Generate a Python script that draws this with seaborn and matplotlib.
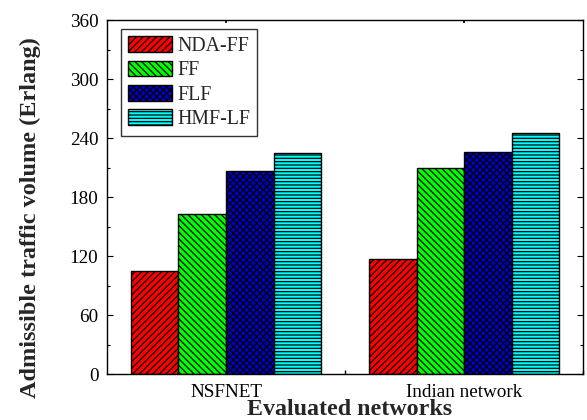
import matplotlib
matplotlib.use("Agg")
import matplotlib.pyplot as plt
from matplotlib.patches import Patch
from matplotlib.ticker import MultipleLocator, FixedLocator
import seaborn as sns
import pandas as pd

networks = ["NSFNET", "Indian network"]
schemes = ["NDA-FF", "FF", "FLF", "HMF-LF"]
nda_ff = [105, 117]
ff = [163, 210]
flf = [207, 226]
hmf_lf = [225, 245]

colors = ["#FF0000", "#00FF00", "#0000CC", "#00FFFF"]
hatches = ["/////", "\\\\\\\\\\", "xxxxx", "-----"]

rows = []
for scheme, vals in zip(schemes, [nda_ff, ff, flf, hmf_lf]):
    for net, v in zip(networks, vals):
        rows.append({"network": net, "scheme": scheme, "volume": v})
df = pd.DataFrame(rows)

sns.set_theme(style="ticks")
plt.rcParams["font.family"] = ["Liberation Serif", "DejaVu Serif"]
plt.rcParams["hatch.linewidth"] = 0.9
plt.rcParams["hatch.color"] = "black"

fig = plt.figure(figsize=(5.87, 4.20), dpi=100)
ax = fig.add_axes([0.1823, 0.1088, 0.8114, 0.8432])

sns.barplot(data=df, x="network", y="volume", hue="scheme", order=networks,
            hue_order=schemes, palette=colors, width=0.8, saturation=1,
            edgecolor="black", linewidth=1.0, legend=False, ax=ax)

for container, h in zip(ax.containers, hatches):
    for bar in container:
        bar.set_hatch(h)
        bar.set_edgecolor("black")

ax.set_xlim(-0.5, 1.5)
ax.set_ylim(0, 360)
ax.yaxis.set_major_locator(MultipleLocator(60))
ax.yaxis.set_minor_locator(MultipleLocator(30))
ax.xaxis.set_minor_locator(FixedLocator([0.5, 1.5]))

for s in ax.spines.values():
    s.set_linewidth(1.0)
    s.set_color("black")

ax.tick_params(axis="y", which="both", direction="in", left=True, right=True,
               labelsize=13.8, colors="black", width=0.8, pad=6.3)
ax.tick_params(axis="y", which="major", length=4)
ax.tick_params(axis="y", which="minor", length=2.5)
ax.tick_params(axis="x", which="major", direction="in", bottom=False, top=True,
               length=2, labelsize=13.8, pad=7.2, colors="black")
ax.tick_params(axis="x", which="minor", direction="in", bottom=True, top=False,
               length=3, colors="black")

ax.set_xlabel("Evaluated networks", fontsize=17.3, fontweight="bold")
ax.set_ylabel("Admissible traffic volume (Erlang)", fontsize=17.5,
              fontweight="bold")
ax.xaxis.set_label_coords(0.5085, -0.070)
ax.yaxis.set_label_coords(-0.1386, 0.443)

handles = [Patch(facecolor=c, edgecolor="black", hatch=h, linewidth=1.0)
           for c, h in zip(colors, hatches)]
leg = ax.legend(handles, schemes, loc="upper left",
                bbox_to_anchor=(0.029, 0.975), fontsize=14.3, frameon=True,
                fancybox=False, edgecolor="black", handlelength=2.2,
                handleheight=0.84, labelspacing=0.235, handletextpad=0.28,
                borderpad=0.36, borderaxespad=0)
leg.get_frame().set_linewidth(1.0)

fig.savefig("out.png", dpi=100)
